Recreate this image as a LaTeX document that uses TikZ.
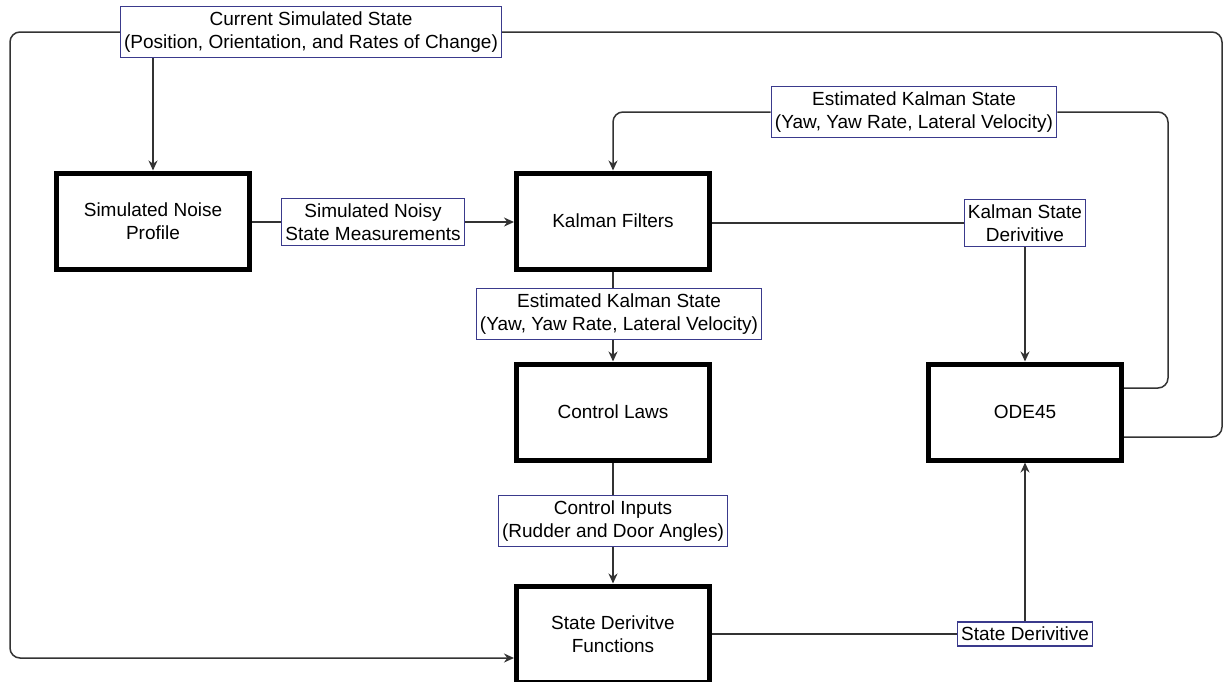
\documentclass[tikz,border=0pt]{standalone}
\usepackage{fontspec}
\setmainfont{Liberation Sans}
\usetikzlibrary{arrows.meta}
\definecolor{lblblue}{RGB}{58,58,140}

\begin{document}
\begin{tikzpicture}[x=0.5pt, y=-0.5pt,
	block/.style={draw=black, line width=2.5pt, minimum width=96.5pt, minimum height=48pt, align=center, font=\fontsize{9.5}{11.5}\selectfont, fill=white},
	lbl/.style={draw=lblblue, line width=0.7pt, fill=white, inner xsep=1.8pt, inner ysep=2.5pt, align=center, font=\fontsize{9.5}{11.5}\selectfont},
	conn/.style={draw=black!80, line width=0.75pt},
	arr/.style={conn, -{Stealth[length=5pt, width=4.5pt]}}]
	\useasboundingbox (0,0) rectangle (1226,681);
	
	\node[block] (noise) at (153,221){Simulated Noise\\Profile};
	\node[block] (kalman) at (613,221){Kalman Filters};
	\node[block] (control) at (613,412){Control Laws};
	\node[block] (ode) at (1025,412){ODE45};
	\node[block] (sdf) at (613,634){State Derivitve\\Functions};
	
	\node[lbl] (cur) at (311,32){Current Simulated State\\(Position, Orientation, and Rates of Change)};
	\node[lbl] (noisy) at (373,222){Simulated Noisy\\State Measurements};
	\node[lbl] (esttop) at (914,112){Estimated Kalman State\\(Yaw, Yaw Rate, Lateral Velocity)};
	\node[lbl] (kdot) at (1025,223){Kalman State\\Derivitive};
	\node[lbl] (estmid) at (619,314){Estimated Kalman State\\(Yaw, Yaw Rate, Lateral Velocity)};
	\node[lbl] (ctrl) at (613,521){Control Inputs\\(Rudder and Door Angles)};
	\node[lbl] (sdot) at (1025,634){State Derivitive};
	
	% forward path
	\draw[conn] (noise.east |- noisy) -- (noisy);
	\draw[arr] (noisy) -- (kalman.west |- noisy);
	\draw[conn] (kalman.south) -- (kalman.south |- estmid.north);
	\draw[arr] (kalman.south |- estmid.south) -- (control.north);
	\draw[conn] (control) -- (ctrl);
	\draw[arr] (ctrl) -- (sdf);
	\draw[conn] (sdf.east |- sdot) -- (sdot);
	\draw[arr] (sdot) -- (ode);
	\draw[conn] (kalman.east |- kdot) -- (kdot);
	\draw[arr] (kdot) -- (ode);
	
	% feedback loops
	\draw[conn, rounded corners=5pt] ([yshift=12pt]ode.east) -- (1168,388) |- (esttop);
	\draw[arr, rounded corners=5pt] (esttop) -| (kalman.north);
	\draw[conn, rounded corners=5pt] ([yshift=-12.5pt]ode.east) -- (1222,437) |- (cur);
	\draw[arr, rounded corners=5pt] (cur) -| (10,658) -- ([yshift=-12pt]sdf.west);
	\draw[arr] (cur.south -| noise.north) -- (noise.north);
\end{tikzpicture}
\end{document}
